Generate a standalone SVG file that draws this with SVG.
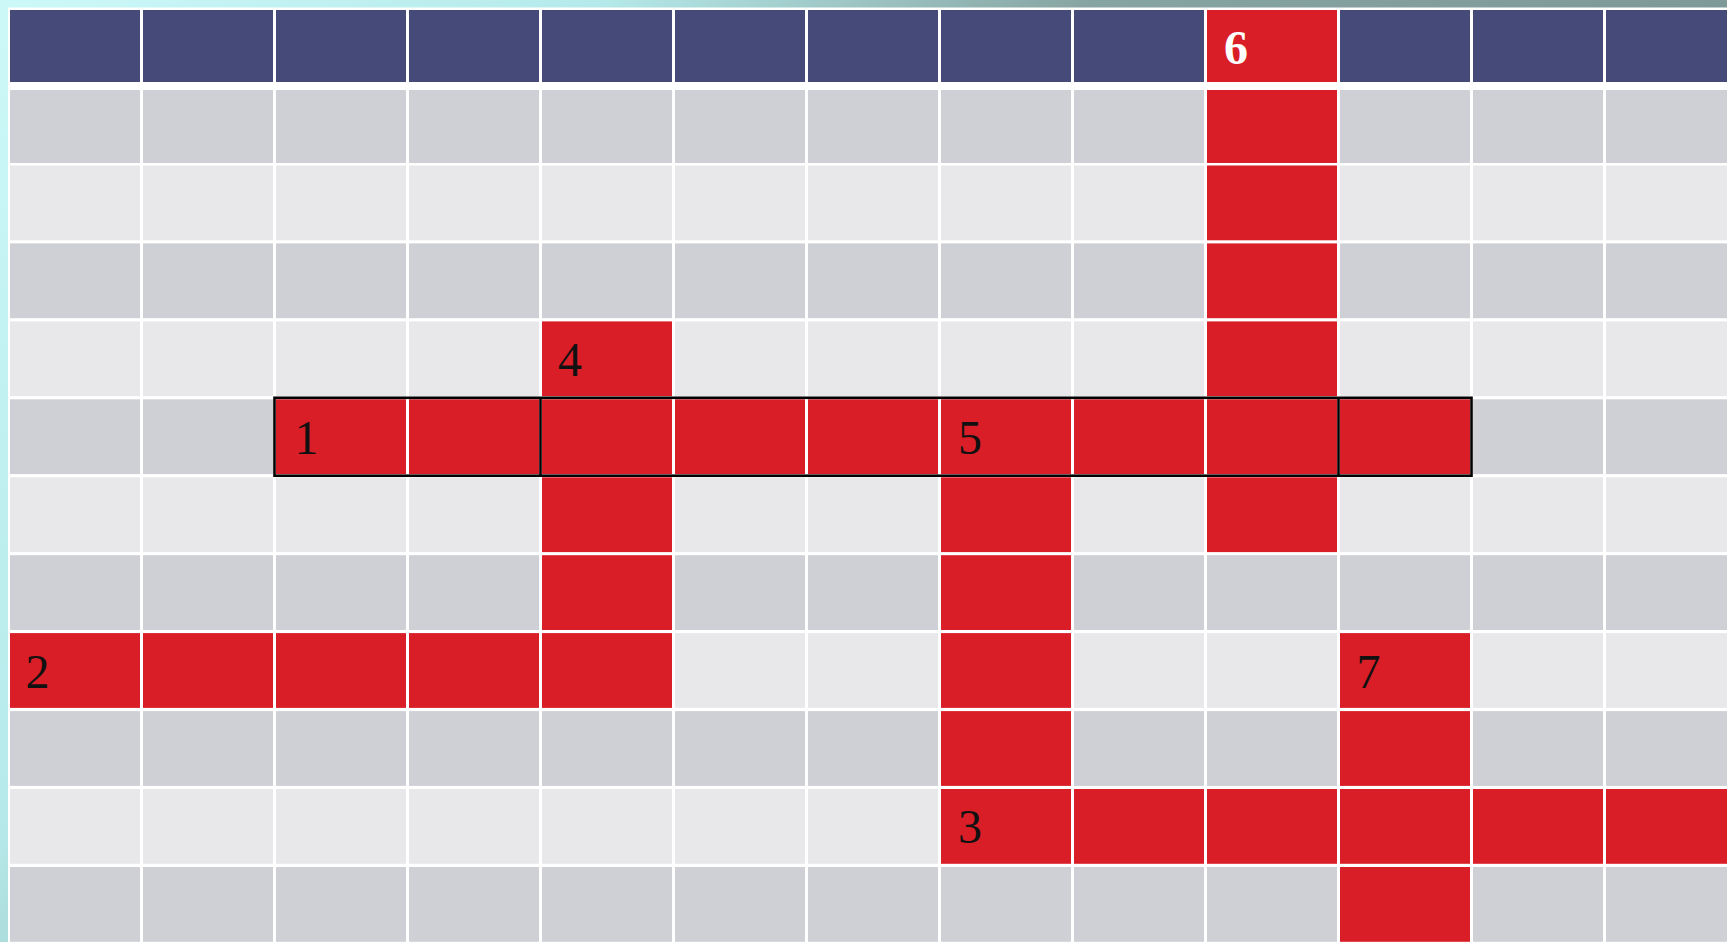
<svg xmlns="http://www.w3.org/2000/svg" xmlns:xlink="http://www.w3.org/1999/xlink" width="1727" height="942" viewBox="0 0 1727 942">
<defs>
<linearGradient id="bg" gradientUnits="userSpaceOnUse" x1="0" y1="0" x2="1300" y2="942">
<stop offset="0" stop-color="#cdf8f8"/>
<stop offset="0.3" stop-color="#b6eaea"/>
<stop offset="0.55" stop-color="#86a4a2"/>
<stop offset="1" stop-color="#7a9694"/>
</linearGradient>
<rect id="h" width="130" height="72"/>
<rect id="c" width="130" height="74.8"/>
<rect id="c1" width="130" height="73"/>
</defs>
<style>
.hd{fill:#464a78}
.d{fill:#cfd0d5}
.l{fill:#e8e8ea}
.r{fill:#da1e27}
.num{font-family:"Liberation Serif","Times New Roman",serif;font-size:48px;fill:#111}
.numw{font-family:"Liberation Serif","Times New Roman",serif;font-size:48px;font-weight:bold;fill:#fff}
.outline{fill:none;stroke:#000;stroke-width:2.6}
</style>
<rect width="1727" height="942" fill="url(#bg)"/>
<rect x="8" y="7.5" width="1719" height="935" fill="#fff"/>
<g id="grid">
<g id="row0" transform="translate(0,10)">
<use href="#h" x="10" class="hd"/><use href="#h" x="143" class="hd"/><use href="#h" x="276" class="hd"/><use href="#h" x="409" class="hd"/><use href="#h" x="542" class="hd"/><use href="#h" x="675" class="hd"/><use href="#h" x="808" class="hd"/><use href="#h" x="941" class="hd"/><use href="#h" x="1074" class="hd"/><use href="#h" x="1207" class="r"/><use href="#h" x="1340" class="hd"/><use href="#h" x="1473" class="hd"/><use href="#h" x="1606" class="hd"/>
</g>
<g id="row1" transform="translate(0,90)">
<use href="#c1" x="10" class="d"/><use href="#c1" x="143" class="d"/><use href="#c1" x="276" class="d"/><use href="#c1" x="409" class="d"/><use href="#c1" x="542" class="d"/><use href="#c1" x="675" class="d"/><use href="#c1" x="808" class="d"/><use href="#c1" x="941" class="d"/><use href="#c1" x="1074" class="d"/><use href="#c1" x="1207" class="r"/><use href="#c1" x="1340" class="d"/><use href="#c1" x="1473" class="d"/><use href="#c1" x="1606" class="d"/>
</g>
<g id="row2" transform="translate(0,165.5)">
<use href="#c" x="10" class="l"/><use href="#c" x="143" class="l"/><use href="#c" x="276" class="l"/><use href="#c" x="409" class="l"/><use href="#c" x="542" class="l"/><use href="#c" x="675" class="l"/><use href="#c" x="808" class="l"/><use href="#c" x="941" class="l"/><use href="#c" x="1074" class="l"/><use href="#c" x="1207" class="r"/><use href="#c" x="1340" class="l"/><use href="#c" x="1473" class="l"/><use href="#c" x="1606" class="l"/>
</g>
<g id="row3" transform="translate(0,243.4)">
<use href="#c" x="10" class="d"/><use href="#c" x="143" class="d"/><use href="#c" x="276" class="d"/><use href="#c" x="409" class="d"/><use href="#c" x="542" class="d"/><use href="#c" x="675" class="d"/><use href="#c" x="808" class="d"/><use href="#c" x="941" class="d"/><use href="#c" x="1074" class="d"/><use href="#c" x="1207" class="r"/><use href="#c" x="1340" class="d"/><use href="#c" x="1473" class="d"/><use href="#c" x="1606" class="d"/>
</g>
<g id="row4" transform="translate(0,321.4)">
<use href="#c" x="10" class="l"/><use href="#c" x="143" class="l"/><use href="#c" x="276" class="l"/><use href="#c" x="409" class="l"/><use href="#c" x="542" class="r"/><use href="#c" x="675" class="l"/><use href="#c" x="808" class="l"/><use href="#c" x="941" class="l"/><use href="#c" x="1074" class="l"/><use href="#c" x="1207" class="r"/><use href="#c" x="1340" class="l"/><use href="#c" x="1473" class="l"/><use href="#c" x="1606" class="l"/>
</g>
<g id="row5" transform="translate(0,399.3)">
<use href="#c" x="10" class="d"/><use href="#c" x="143" class="d"/><use href="#c" x="276" class="r"/><use href="#c" x="409" class="r"/><use href="#c" x="542" class="r"/><use href="#c" x="675" class="r"/><use href="#c" x="808" class="r"/><use href="#c" x="941" class="r"/><use href="#c" x="1074" class="r"/><use href="#c" x="1207" class="r"/><use href="#c" x="1340" class="r"/><use href="#c" x="1473" class="d"/><use href="#c" x="1606" class="d"/>
</g>
<g id="row6" transform="translate(0,477.3)">
<use href="#c" x="10" class="l"/><use href="#c" x="143" class="l"/><use href="#c" x="276" class="l"/><use href="#c" x="409" class="l"/><use href="#c" x="542" class="r"/><use href="#c" x="675" class="l"/><use href="#c" x="808" class="l"/><use href="#c" x="941" class="r"/><use href="#c" x="1074" class="l"/><use href="#c" x="1207" class="r"/><use href="#c" x="1340" class="l"/><use href="#c" x="1473" class="l"/><use href="#c" x="1606" class="l"/>
</g>
<g id="row7" transform="translate(0,555.2)">
<use href="#c" x="10" class="d"/><use href="#c" x="143" class="d"/><use href="#c" x="276" class="d"/><use href="#c" x="409" class="d"/><use href="#c" x="542" class="r"/><use href="#c" x="675" class="d"/><use href="#c" x="808" class="d"/><use href="#c" x="941" class="r"/><use href="#c" x="1074" class="d"/><use href="#c" x="1207" class="d"/><use href="#c" x="1340" class="d"/><use href="#c" x="1473" class="d"/><use href="#c" x="1606" class="d"/>
</g>
<g id="row8" transform="translate(0,633.1)">
<use href="#c" x="10" class="r"/><use href="#c" x="143" class="r"/><use href="#c" x="276" class="r"/><use href="#c" x="409" class="r"/><use href="#c" x="542" class="r"/><use href="#c" x="675" class="l"/><use href="#c" x="808" class="l"/><use href="#c" x="941" class="r"/><use href="#c" x="1074" class="l"/><use href="#c" x="1207" class="l"/><use href="#c" x="1340" class="r"/><use href="#c" x="1473" class="l"/><use href="#c" x="1606" class="l"/>
</g>
<g id="row9" transform="translate(0,711.1)">
<use href="#c" x="10" class="d"/><use href="#c" x="143" class="d"/><use href="#c" x="276" class="d"/><use href="#c" x="409" class="d"/><use href="#c" x="542" class="d"/><use href="#c" x="675" class="d"/><use href="#c" x="808" class="d"/><use href="#c" x="941" class="r"/><use href="#c" x="1074" class="d"/><use href="#c" x="1207" class="d"/><use href="#c" x="1340" class="r"/><use href="#c" x="1473" class="d"/><use href="#c" x="1606" class="d"/>
</g>
<g id="row10" transform="translate(0,789)">
<use href="#c" x="10" class="l"/><use href="#c" x="143" class="l"/><use href="#c" x="276" class="l"/><use href="#c" x="409" class="l"/><use href="#c" x="542" class="l"/><use href="#c" x="675" class="l"/><use href="#c" x="808" class="l"/><use href="#c" x="941" class="r"/><use href="#c" x="1074" class="r"/><use href="#c" x="1207" class="r"/><use href="#c" x="1340" class="r"/><use href="#c" x="1473" class="r"/><use href="#c" x="1606" class="r"/>
</g>
<g id="row11" transform="translate(0,867)">
<use href="#c" x="10" class="d"/><use href="#c" x="143" class="d"/><use href="#c" x="276" class="d"/><use href="#c" x="409" class="d"/><use href="#c" x="542" class="d"/><use href="#c" x="675" class="d"/><use href="#c" x="808" class="d"/><use href="#c" x="941" class="d"/><use href="#c" x="1074" class="d"/><use href="#c" x="1207" class="d"/><use href="#c" x="1340" class="r"/><use href="#c" x="1473" class="d"/><use href="#c" x="1606" class="d"/>
</g>
</g>
<g id="word1-outline">
<rect class="outline" x="274.5" y="397.8" width="1197" height="77.9"/>
<line class="outline" x1="540.5" y1="397.8" x2="540.5" y2="475.7"/>
<line class="outline" x1="1338.5" y1="397.8" x2="1338.5" y2="475.7"/>
</g>
<g id="clue-numbers">
<text id="n6" class="numw" x="1224" y="64">6</text>
<text id="n4" class="num" x="558" y="375.5">4</text>
<text id="n1" class="num" x="294.5" y="453.5">1</text>
<text id="n5" class="num" x="958" y="453.5">5</text>
<text id="n2" class="num" x="25.5" y="688">2</text>
<text id="n7" class="num" x="1356.5" y="688">7</text>
<text id="n3" class="num" x="958" y="843">3</text>
</g>
</svg>
